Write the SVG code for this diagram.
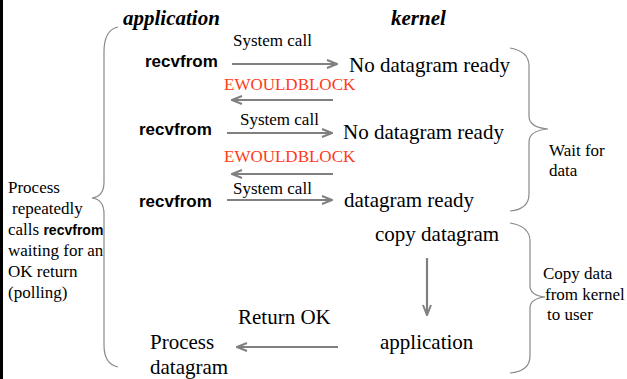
<svg xmlns="http://www.w3.org/2000/svg" width="627" height="379" viewBox="0 0 627 379">
  <style>
    .serif { font-family: "Liberation Serif", "Times New Roman", serif; fill: #000; }
    .head { font-family: "Liberation Serif", "Times New Roman", serif; font-weight: bold; font-style: italic; font-size: 21px; fill: #000; }
    .big { font-size: 21px; }
    .mid { font-size: 17px; }
    .call { font-family: "Liberation Sans", Arial, sans-serif; font-weight: bold; font-size: 17px; fill: #000; }
    .err { font-family: "Liberation Serif", "Times New Roman", serif; font-size: 17px; fill: #ff3b1a; }
    .arrow { stroke: #808080; stroke-width: 2.2; fill: none; marker-end: url(#head); }
    .brace { stroke: #8a8a8a; stroke-width: 1.2; fill: none; }
  </style>
  <defs>
    <marker id="head" viewBox="0 0 12 10" refX="11" refY="5" markerWidth="12" markerHeight="10" markerUnits="userSpaceOnUse" orient="auto">
      <polyline points="1,1 11,5 1,9" fill="none" stroke="#808080" stroke-width="2"/>
    </marker>
  </defs>

  <rect width="627" height="379" fill="#fff"/>
  <!-- frame edge on the left -->
  <line x1="1.5" y1="0" x2="1.5" y2="379" stroke="#000" stroke-width="3"/>

  <!-- column headings -->
  <g id="heading-app"><text class="head" x="123" y="25">application</text></g>
  <g id="heading-kernel"><text class="head" x="391" y="25">kernel</text></g>

  <!-- application side -->
  <g id="call-1"><text class="call" x="145" y="67">recvfrom</text></g>
  <g id="call-2"><text class="call" x="139" y="135">recvfrom</text></g>
  <g id="call-3"><text class="call" x="139" y="207">recvfrom</text></g>
  <g id="process-datagram">
    <text class="serif big" x="150" y="349">Process</text>
    <text class="serif big" x="150" y="374">datagram</text>
  </g>

  <!-- kernel side -->
  <g id="not-ready-1"><text class="serif big" x="349" y="72">No datagram ready</text></g>
  <g id="not-ready-2"><text class="serif big" x="343" y="139">No datagram ready</text></g>
  <g id="ready"><text class="serif big" x="344" y="207">datagram ready</text></g>
  <g id="copy"><text class="serif big" x="375" y="241">copy datagram</text></g>
  <g id="copied"><text class="serif big" x="380" y="349">application</text></g>

  <!-- connectors with their labels -->
  <g id="connectors">
    <line class="arrow" x1="232" y1="64" x2="337" y2="64"/>
    <text class="serif mid" x="233" y="46">System call</text>
    <line class="arrow" x1="333" y1="100" x2="232" y2="100"/>
    <text class="err" x="224" y="90">EWOULDBLOCK</text>

    <line class="arrow" x1="227" y1="133" x2="332" y2="133"/>
    <text class="serif mid" x="240" y="125">System call</text>
    <line class="arrow" x1="333" y1="174" x2="232" y2="174"/>
    <text class="err" x="224" y="162">EWOULDBLOCK</text>

    <line class="arrow" x1="227" y1="200" x2="332" y2="200"/>
    <text class="serif mid" x="233" y="194">System call</text>

    <line class="arrow" x1="427" y1="258" x2="427" y2="315"/>

    <line class="arrow" x1="338" y1="347" x2="237" y2="347"/>
    <text class="serif big" x="238" y="324">Return OK</text>
  </g>

  <!-- braces and their notes -->
  <g id="brace-polling">
    <path class="brace" d="M118,27 C108,29 104,38 104,52 L104,182 C104,192 100,197 92,198 C100,199 104,204 104,214 L104,345 C104,358 108,365 118,367"/>
    <text class="serif mid" x="8" y="193">Process</text>
    <text class="serif mid" x="12" y="214">repeatedly</text>
    <text class="serif mid" x="8" y="235">calls <tspan class="call" style="font-size:14px">recvfrom</tspan></text>
    <text class="serif mid" x="8" y="256">waiting for an</text>
    <text class="serif mid" x="8" y="277">OK return</text>
    <text class="serif mid" x="8" y="298">(polling)</text>
  </g>

  <g id="brace-wait">
    <path class="brace" d="M510,48 C522,50 529,55 529,66 L529,116 C529,124 536,128 548,129 C536,130 529,134 529,142 L529,194 C529,205 522,210 510,211"/>
    <text class="serif mid" x="549" y="156">Wait for</text>
    <text class="serif mid" x="549" y="176">data</text>
  </g>

  <g id="brace-copy">
    <path class="brace" d="M510,223 C522,225 530,230 530,241 L530,286 C530,293 536,296 545,297 C536,298 530,301 530,308 L530,356 C530,367 522,372 510,373"/>
    <text class="serif mid" x="543" y="279">Copy data</text>
    <text class="serif mid" x="545" y="300">from kernel</text>
    <text class="serif mid" x="547" y="320">to user</text>
  </g>
</svg>
